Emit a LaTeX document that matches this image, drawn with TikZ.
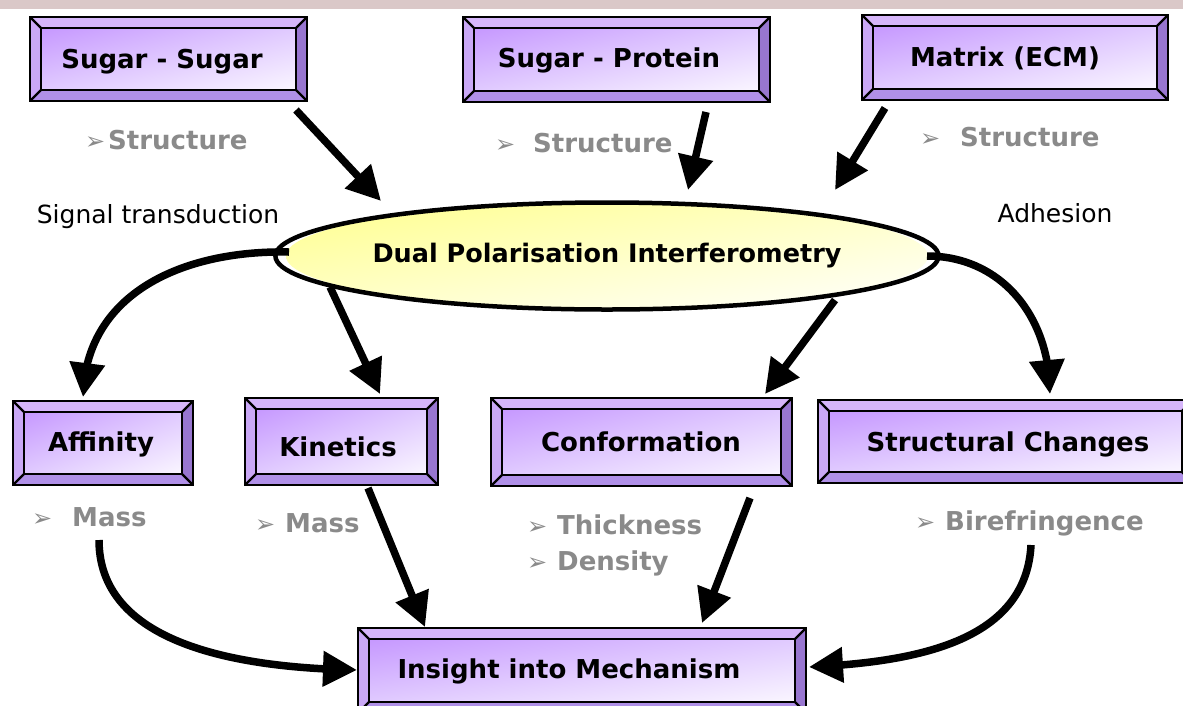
\documentclass[tikz,border=0pt]{standalone}
\usepackage{fontspec}
\setmainfont{DejaVu Sans}
\usetikzlibrary{arrows.meta,shapes.geometric,bending,shadings}
\definecolor{topbev}{RGB}{214,182,250}
\definecolor{leftbev}{RGB}{202,168,246}
\definecolor{rightbev}{RGB}{152,118,208}
\definecolor{botbev}{RGB}{176,144,232}
\definecolor{faceA}{RGB}{198,152,255}
\definecolor{faceB}{RGB}{250,246,255}
\definecolor{faceM}{RGB}{224,202,255}
\definecolor{subgray}{RGB}{138,138,138}
\definecolor{strip}{RGB}{218,200,200}
\definecolor{ellyel}{RGB}{255,255,140}
\definecolor{ellmid}{RGB}{255,255,200}
\newcommand\bevbox[4]{%
  \fill[topbev] (#1,#2) -- (#3,#2) -- (#3-11,#2+11) -- (#1+11,#2+11) -- cycle;
  \fill[leftbev] (#1,#2) -- (#1+11,#2+11) -- (#1+11,#4-11) -- (#1,#4) -- cycle;
  \fill[rightbev] (#3,#2) -- (#3,#4) -- (#3-11,#4-11) -- (#3-11,#2+11) -- cycle;
  \fill[botbev] (#1,#4) -- (#3,#4) -- (#3-11,#4-11) -- (#1+11,#4-11) -- cycle;
  \shade[upper left=faceA, upper right=faceM, lower left=faceM, lower right=faceB]
    (#1+11,#2+11) rectangle (#3-11,#4-11);
  \draw[boxline] (#1,#2) rectangle (#3,#4);
  \draw[boxline] (#1+11,#2+11) rectangle (#3-11,#4-11);
  \draw[boxline] (#1,#2) -- (#1+11,#2+11) (#3,#2) -- (#3-11,#2+11)
                 (#1,#4) -- (#1+11,#4-11) (#3,#4) -- (#3-11,#4-11);
}
\begin{document}
\begin{tikzpicture}[x=1pt,y=-1pt,
  boxline/.style={line width=2.2pt, line join=miter},
  conn/.style={line width=7.5pt, -{Triangle[length=34pt,width=34pt]}},
  boxtxt/.style={font=\fontsize{26}{30}\selectfont\bfseries, text=black, inner sep=0pt, anchor=base},
  sub/.style={font=\fontsize{26}{30}\selectfont\bfseries, text=subgray, inner sep=0pt, anchor=base west},
  note/.style={font=\fontsize{25}{30}\selectfont, text=black, inner sep=0pt, anchor=base}]
\newcommand\arr[1]{\makebox[#1pt][l]{\fontsize{24}{24}\selectfont\mdseries ➢}}
\clip (0,0) rectangle (1183,705);
\useasboundingbox (0,0) rectangle (1183,705);
\fill[white] (0,0) rectangle (1183,705);
\fill[strip] (0,0) rectangle (1183,9);

% boxes
\bevbox{30}{17}{307}{101}
\node[boxtxt] (ss) at (162,68) {Sugar - Sugar};
\bevbox{463}{17}{770}{102}
\node[boxtxt] (sp) at (609,67) {Sugar - Protein};
\bevbox{862}{15}{1168}{100}
\node[boxtxt] (mx) at (1005,66) {Matrix (ECM)};
\bevbox{13}{401}{193}{485}
\node[boxtxt] (aff) at (101,451) {Affinity};
\bevbox{245}{398}{438}{485}
\node[boxtxt] (kin) at (338,456) {Kinetics};
\bevbox{491}{398}{792}{486}
\node[boxtxt] (conf) at (641,451) {Conformation};
\bevbox{818}{400}{1193}{483}
\node[boxtxt] (sc) at (1008,451) {Structural Changes};
\bevbox{358}{628}{806}{713}
\node[boxtxt] (ins) at (569,678) {Insight into Mechanism};

% ellipse
\shade[upper left=ellyel, upper right=ellmid, lower left=ellmid, lower right=white]
  (607,256) ellipse [x radius=321pt, y radius=53.5pt];
\node[ellipse, draw, line width=4.5pt, minimum width=642pt, minimum height=107pt,
      font=\fontsize{25.5}{28}\selectfont\bfseries, inner sep=0pt] (dpi) at (607,256) {Dual Polarisation Interferometry};

% sub labels
\node[sub] (st1) at (85,149.5) {\arr{23}Structure};
\node[sub] (st2) at (495,152) {\arr{38}Structure};
\node[sub] (st3) at (920,146) {\arr{40}Structure};
\node[sub] (ms1) at (32,526) {\arr{40}Mass};
\node[sub] (ms2) at (255,532) {\arr{30}Mass};
\node[sub] (thk) at (527,534) {\arr{30}Thickness};
\node[sub] (den) at (527,570) {\arr{30}Density};
\node[sub] (bir) at (915,530) {\arr{30}Birefringence};
\node[note] (sig) at (158,223) {Signal transduction};
\node[note] (adh) at (1055,222) {Adhesion};

% connector end points
\coordinate (a1s) at (296,110); \coordinate (a1e) at (381,201);
\coordinate (a2s) at (706,112); \coordinate (a2e) at (688,190);
\coordinate (a3s) at (885,108); \coordinate (a3e) at (835,190);
\coordinate (a4s) at (289,252); \coordinate (a4e) at (83,397);
\coordinate (a5s) at (330,287); \coordinate (a5e) at (380,394);
\coordinate (a6s) at (835,300); \coordinate (a6e) at (765,394);
\coordinate (a7s) at (927,256); \coordinate (a7e) at (1050,394);
\coordinate (a8s) at (99,540);  \coordinate (a8e) at (357,670);
\coordinate (a9s) at (368,488); \coordinate (a9e) at (425,627);
\coordinate (a10s) at (750,498); \coordinate (a10e) at (702,623);
\coordinate (a11s) at (1031,545); \coordinate (a11e) at (809,667);

\draw[conn] (a1s) -- (a1e);
\draw[conn] (a2s) -- (a2e);
\draw[conn] (a3s) -- (a3e);
\draw[conn] (a4s) .. controls (180,250) and (85,295) .. (a4e);
\draw[conn] (a5s) -- (a5e);
\draw[conn] (a6s) -- (a6e);
\draw[conn] (a7s) .. controls (1000,256) and (1050,315) .. (a7e);
\draw[conn] (a8s) .. controls (99,645) and (240,668) .. (a8e);
\draw[conn] (a9s) -- (a9e);
\draw[conn] (a10s) -- (a10e);
\draw[conn] (a11s) .. controls (1026,640) and (920,662) .. (a11e);
\end{tikzpicture}
\end{document}
